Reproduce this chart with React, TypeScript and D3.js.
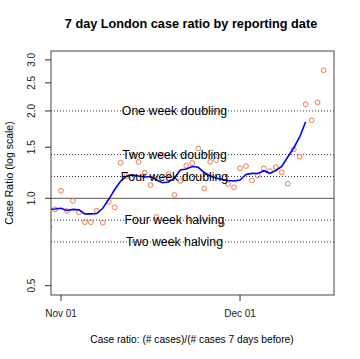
import React from "react";
import * as d3 from "d3";

// ---- data ----
const seriesStart = "2020-10-30"; // first day of the point series
const dailyRatio: number[] = [
  0.798, 0.916, 1.062, 0.904, 0.979, 0.895, 0.827, 0.827, 0.906, 0.824,
  0.973, 0.931, 1.326, 1.194, 1.41, 1.334, 1.225, 1.111, 0.862, 1.41,
  1.213, 1.027, 1.147, 1.295, 1.323, 1.485, 1.081, 1.336, 1.355, 0.815,
  1.12, 1.091, 1.269, 1.292, 1.152, 1.198, 1.267, 1.242, 1.282, 1.229,
  1.123, 1.475, 1.391, 2.109, 1.857, 2.142, 2.762,
];
const smoothedRatio: number[] = [
  0.916, 0.919, 0.924, 0.908, 0.916, 0.913, 0.884, 0.884, 0.886, 0.924,
  0.991, 1.072, 1.147, 1.194, 1.203, 1.194, 1.184, 1.189, 1.156, 1.132,
  1.138, 1.17, 1.252, 1.262, 1.287, 1.279, 1.227, 1.194, 1.175, 1.161,
  1.152, 1.147, 1.156, 1.208, 1.219, 1.218, 1.245, 1.219, 1.247, 1.287,
  1.388, 1.491, 1.627, 1.837,
];
const refLevels: number[] = [2, 1.4142, 1.1892, 0.8409, 0.7071];
const refLabels: string[] = [
  "One week doubling",
  "Two week doubling",
  "Four week doubling",
  "Four week halving",
  "Two week halving",
];
const yTicks: number[] = [0.5, 1.0, 1.5, 2.0, 2.5, 3.0];
const yTickLabels: string[] = ["0.5", "1.0", "1.5", "2.0", "2.5", "3.0"];
const xTickDates: string[] = ["2020-11-01", "2020-12-01"];
const xTickLabels: string[] = ["Nov 01", "Dec 01"];

const FONT = "'Liberation Sans', Arial, Helvetica, sans-serif";

const DAY = 86400000;
const parse = (s: string) => new Date(s + "T00:00:00Z");

export default function App() {
  const W = 360, H = 359;
  const left = 51, right = 334, top = 51, bottom = 295;

  const nov1 = parse("2020-11-01").getTime();
  const x = d3
    .scaleUtc()
    .domain([new Date(nov1 - 1.676 * DAY), new Date(nov1 + 45.75 * DAY)])
    .range([left, right]);
  const y = d3.scaleLog().domain([0.4642, 3.219]).range([bottom, top]);

  const start = parse(seriesStart).getTime();
  const pts = dailyRatio.map((v, i) => ({ date: new Date(start + i * DAY), v }));
  const smooth = smoothedRatio.map((v, i) => ({ date: new Date(start + i * DAY), v }));

  const line = d3
    .line<{ date: Date; v: number }>()
    .x((d) => x(d.date))
    .y((d) => y(d.v));

  const labelX = 174.5;

  return (
    <svg width={W} height={H} style={{ position: "absolute", left: 0, top: 0, background: "#fff" }}>
      <defs>
        <clipPath id="plotclip">
          <rect x={left} y={top} width={right - left} height={bottom - top} />
        </clipPath>
      </defs>
      <rect x={0} y={0} width={W} height={H} fill="#fff" />

      {/* title */}
      <text x={191} y={28} textAnchor="middle" fontFamily={FONT} fontWeight="bold" fontSize={12.7} fill="#000">
        7 day London case ratio by reporting date
      </text>

      {/* reference lines */}
      {refLevels.map((v, i) => (
        <line key={"r" + i} x1={left} x2={right} y1={y(v)} y2={y(v)} stroke="#333" strokeWidth={1} strokeDasharray="1,2" />
      ))}
      <line x1={left} x2={right} y1={y(1)} y2={y(1)} stroke="#555" strokeWidth={1} />

      <g clipPath="url(#plotclip)">
        {pts.map((p, i) => (
          <circle key={"p" + i} cx={x(p.date)} cy={y(p.v)} r={2.4} fill="none" stroke="#ee7a52" strokeWidth={1} />
        ))}
        <path d={line(smooth) || ""} fill="none" stroke="#0000ff" strokeWidth={1.6} />
      </g>

      {/* reference labels */}
      {refLevels.map((v, i) => (
        <text key={"l" + i} x={labelX} y={y(v) + 4.2} textAnchor="middle" fontFamily={FONT} fontSize={12.3} fill="#000">
          {refLabels[i]}
        </text>
      ))}

      {/* box */}
      <rect x={left} y={top} width={right - left} height={bottom - top} fill="none" stroke="#444" strokeWidth={1} />

      {/* y axis */}
      {yTicks.map((t, i) => (
        <g key={"yt" + i}>
          <line x1={45} x2={left} y1={y(t)} y2={y(t)} stroke="#333" strokeWidth={1} />
          <text transform={`translate(34.5,${y(t)}) rotate(-90)`} textAnchor="middle" fontFamily={FONT} fontSize={10} fill="#222">
            {yTickLabels[i]}
          </text>
        </g>
      ))}
      <text transform={`translate(13,173) rotate(-90)`} textAnchor="middle" fontFamily={FONT} fontSize={10.5} fill="#000">
        Case Ratio (log scale)
      </text>

      {/* x axis */}
      {xTickDates.map((s, i) => {
        const xx = x(parse(s));
        return (
          <g key={"xt" + i}>
            <line x1={xx} x2={xx} y1={bottom} y2={301} stroke="#333" strokeWidth={1} />
            <text x={xx} y={317} textAnchor="middle" fontFamily={FONT} fontSize={10} fill="#222">
              {xTickLabels[i]}
            </text>
          </g>
        );
      })}
      <text x={192} y={343} textAnchor="middle" fontFamily={FONT} fontSize={10.2} fill="#000">
        Case ratio: (# cases)/(# cases 7 days before)
      </text>
    </svg>
  );
}
